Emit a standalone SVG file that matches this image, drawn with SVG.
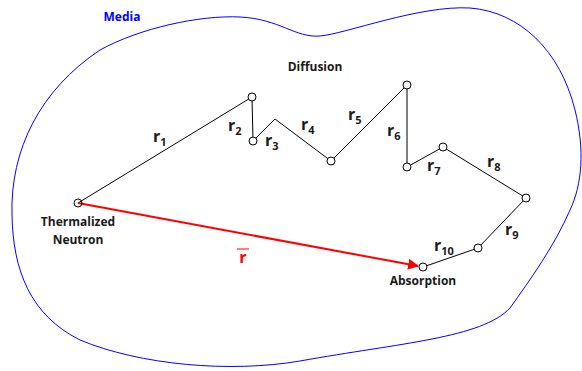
<svg xmlns="http://www.w3.org/2000/svg" width="582" height="371" viewBox="0 0 582 371">
<defs>
<style>
.lbl{font-family:"Open Sans","Liberation Sans",sans-serif;font-weight:bold;font-size:12px;fill:#1a1a1a;text-anchor:middle}
.r{font-family:"Open Sans","Liberation Sans",sans-serif;font-weight:bold;font-size:16px;fill:#1a1a1a}
.sub{font-size:11px}
.seg{fill:none;stroke:#000;stroke-width:1}
.node{fill:#fff;stroke:#000;stroke-width:1}
</style>
<marker id="ah" viewBox="0 0 10 10" refX="9" refY="5" markerWidth="5.5" markerHeight="5.5" orient="auto" markerUnits="strokeWidth">
<path d="M0,0 L10,5 L0,10 z" fill="#ff0000"/>
</marker>
</defs>
<rect width="582" height="371" fill="#fff"/>
<g id="media">
<path d="M 12,215 C 10,150 40,90 100,50 C 140,28 200,15 240,17 C 280,19 295,38 320,36 C 345,34 420,5 470,8 C 520,12 560,50 575,110 C 585,150 582,185 570,210 C 555,245 530,280 510,308 C 482,338 400,343 300,361 C 230,373 140,365 80,340 C 30,315 13,270 12,215 Z" fill="none" stroke="#0000ff" stroke-width="1"/>
<text x="122" y="21" class="lbl" style="fill:#0000ff">Media</text>
</g>
<g id="connectors">
<polyline class="seg" points="78,203 252,97 253,141 275,119 331,161 407,85 407,167 443,147 526,198 478,248 423,267"/>
<line x1="78" y1="203" x2="418" y2="266" stroke="#ff0000" stroke-width="2" marker-end="url(#ah)"/>
</g>
<g id="nodes">
<circle id="n0" class="node" cx="78" cy="203" r="4" style="fill:none"/>
<circle id="n1" class="node" cx="252" cy="97" r="4"/>
<circle id="n2" class="node" cx="253" cy="141" r="4"/>
<circle id="n3" class="node" cx="331" cy="161" r="4"/>
<circle id="n4" class="node" cx="407" cy="85" r="4"/>
<circle id="n5" class="node" cx="407" cy="167" r="4"/>
<circle id="n6" class="node" cx="443" cy="147" r="4"/>
<circle id="n7" class="node" cx="526" cy="198" r="4"/>
<circle id="n8" class="node" cx="478" cy="248" r="4"/>
<circle id="n9" class="node" cx="423" cy="267" r="4"/>
</g>
<g id="labels">
<text x="315" y="71" class="lbl">Diffusion</text>
<text x="78" y="226" class="lbl">Thermalized</text>
<text x="78" y="244" class="lbl">Neutron</text>
<text x="423" y="285" class="lbl">Absorption</text>
<text x="153" y="142" class="r">r<tspan class="sub" dy="4">1</tspan></text>
<text x="228" y="131" class="r">r<tspan class="sub" dy="4">2</tspan></text>
<text x="265" y="146" class="r">r<tspan class="sub" dy="4">3</tspan></text>
<text x="301" y="130" class="r">r<tspan class="sub" dy="4">4</tspan></text>
<text x="348" y="120" class="r">r<tspan class="sub" dy="4">5</tspan></text>
<text x="387" y="136" class="r">r<tspan class="sub" dy="4">6</tspan></text>
<text x="427" y="171" class="r">r<tspan class="sub" dy="4">7</tspan></text>
<text x="487" y="167" class="r">r<tspan class="sub" dy="4">8</tspan></text>
<text x="505" y="235" class="r">r<tspan class="sub" dy="4">9</tspan></text>
<text x="434" y="251" class="r">r<tspan class="sub" dy="4">10</tspan></text>
<text x="243" y="263" class="r" style="fill:#ff0000;text-anchor:middle">r</text>
<line x1="237" y1="249" x2="249" y2="249" stroke="#ff0000" stroke-width="1"/>
</g>
</svg>
